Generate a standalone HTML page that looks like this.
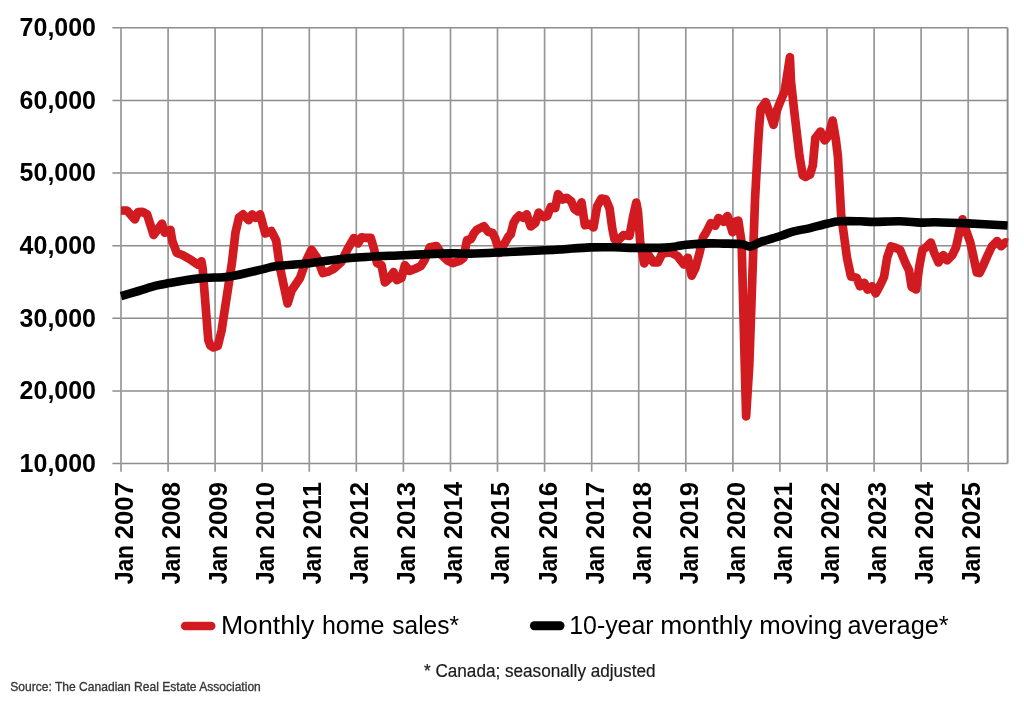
<!DOCTYPE html>
<html><head><meta charset="utf-8"><style>
html,body{margin:0;padding:0;background:#fff;}
body{width:1024px;height:701px;overflow:hidden;font-family:"Liberation Sans",sans-serif;}
svg{display:block;will-change:transform;filter:blur(0.3px);}
</style></head><body>
<svg width="1024" height="701" viewBox="0 0 1024 701">
<rect width="1024" height="701" fill="#fff"/>
<line x1="112.4" y1="27.8" x2="1007.6" y2="27.8" stroke="#8d8d8d" stroke-width="1.5"/>
<line x1="112.4" y1="100.4" x2="1007.6" y2="100.4" stroke="#8d8d8d" stroke-width="1.5"/>
<line x1="112.4" y1="173.0" x2="1007.6" y2="173.0" stroke="#8d8d8d" stroke-width="1.5"/>
<line x1="112.4" y1="245.7" x2="1007.6" y2="245.7" stroke="#8d8d8d" stroke-width="1.5"/>
<line x1="112.4" y1="318.3" x2="1007.6" y2="318.3" stroke="#8d8d8d" stroke-width="1.5"/>
<line x1="112.4" y1="390.9" x2="1007.6" y2="390.9" stroke="#8d8d8d" stroke-width="1.5"/>
<line x1="112.4" y1="463.5" x2="1007.6" y2="463.5" stroke="#8d8d8d" stroke-width="1.5"/>
<line x1="121.0" y1="27.8" x2="121.0" y2="471.8" stroke="#979797" stroke-width="1.7"/>
<line x1="168.1" y1="27.8" x2="168.1" y2="471.8" stroke="#979797" stroke-width="1.7"/>
<line x1="215.1" y1="27.8" x2="215.1" y2="471.8" stroke="#979797" stroke-width="1.7"/>
<line x1="262.2" y1="27.8" x2="262.2" y2="471.8" stroke="#979797" stroke-width="1.7"/>
<line x1="309.3" y1="27.8" x2="309.3" y2="471.8" stroke="#979797" stroke-width="1.7"/>
<line x1="356.3" y1="27.8" x2="356.3" y2="471.8" stroke="#979797" stroke-width="1.7"/>
<line x1="403.4" y1="27.8" x2="403.4" y2="471.8" stroke="#979797" stroke-width="1.7"/>
<line x1="450.5" y1="27.8" x2="450.5" y2="471.8" stroke="#979797" stroke-width="1.7"/>
<line x1="497.5" y1="27.8" x2="497.5" y2="471.8" stroke="#979797" stroke-width="1.7"/>
<line x1="544.6" y1="27.8" x2="544.6" y2="471.8" stroke="#979797" stroke-width="1.7"/>
<line x1="591.7" y1="27.8" x2="591.7" y2="471.8" stroke="#979797" stroke-width="1.7"/>
<line x1="638.7" y1="27.8" x2="638.7" y2="471.8" stroke="#979797" stroke-width="1.7"/>
<line x1="685.8" y1="27.8" x2="685.8" y2="471.8" stroke="#979797" stroke-width="1.7"/>
<line x1="732.9" y1="27.8" x2="732.9" y2="471.8" stroke="#979797" stroke-width="1.7"/>
<line x1="779.9" y1="27.8" x2="779.9" y2="471.8" stroke="#979797" stroke-width="1.7"/>
<line x1="827.0" y1="27.8" x2="827.0" y2="471.8" stroke="#979797" stroke-width="1.7"/>
<line x1="874.1" y1="27.8" x2="874.1" y2="471.8" stroke="#979797" stroke-width="1.7"/>
<line x1="921.1" y1="27.8" x2="921.1" y2="471.8" stroke="#979797" stroke-width="1.7"/>
<line x1="968.2" y1="27.8" x2="968.2" y2="471.8" stroke="#979797" stroke-width="1.7"/>
<line x1="1007.6" y1="27.8" x2="1007.6" y2="463.5" stroke="#8a8a8a" stroke-width="1.9"/>
<text x="96.0" y="36.1" text-anchor="end" font-family="Liberation Sans" font-weight="bold" font-size="26.4" textLength="76.4" lengthAdjust="spacingAndGlyphs">70,000</text>
<text x="96.0" y="108.7" text-anchor="end" font-family="Liberation Sans" font-weight="bold" font-size="26.4" textLength="76.4" lengthAdjust="spacingAndGlyphs">60,000</text>
<text x="96.0" y="181.3" text-anchor="end" font-family="Liberation Sans" font-weight="bold" font-size="26.4" textLength="76.4" lengthAdjust="spacingAndGlyphs">50,000</text>
<text x="96.0" y="254.0" text-anchor="end" font-family="Liberation Sans" font-weight="bold" font-size="26.4" textLength="76.4" lengthAdjust="spacingAndGlyphs">40,000</text>
<text x="96.0" y="326.6" text-anchor="end" font-family="Liberation Sans" font-weight="bold" font-size="26.4" textLength="76.4" lengthAdjust="spacingAndGlyphs">30,000</text>
<text x="96.0" y="399.2" text-anchor="end" font-family="Liberation Sans" font-weight="bold" font-size="26.4" textLength="76.4" lengthAdjust="spacingAndGlyphs">20,000</text>
<text x="96.0" y="471.8" text-anchor="end" font-family="Liberation Sans" font-weight="bold" font-size="26.4" textLength="76.4" lengthAdjust="spacingAndGlyphs">10,000</text>
<text transform="translate(132.9,482.0) rotate(-90)" text-anchor="end" font-family="Liberation Sans" font-weight="bold" font-size="25.3" textLength="57.3" lengthAdjust="spacingAndGlyphs">2007</text>
<text transform="translate(132.9,545.0) rotate(-90)" text-anchor="end" font-family="Liberation Sans" font-weight="bold" font-size="25.3" textLength="39.3" lengthAdjust="spacingAndGlyphs">Jan</text>
<text transform="translate(180.0,482.0) rotate(-90)" text-anchor="end" font-family="Liberation Sans" font-weight="bold" font-size="25.3" textLength="57.3" lengthAdjust="spacingAndGlyphs">2008</text>
<text transform="translate(180.0,545.0) rotate(-90)" text-anchor="end" font-family="Liberation Sans" font-weight="bold" font-size="25.3" textLength="39.3" lengthAdjust="spacingAndGlyphs">Jan</text>
<text transform="translate(227.0,482.0) rotate(-90)" text-anchor="end" font-family="Liberation Sans" font-weight="bold" font-size="25.3" textLength="57.3" lengthAdjust="spacingAndGlyphs">2009</text>
<text transform="translate(227.0,545.0) rotate(-90)" text-anchor="end" font-family="Liberation Sans" font-weight="bold" font-size="25.3" textLength="39.3" lengthAdjust="spacingAndGlyphs">Jan</text>
<text transform="translate(274.1,482.0) rotate(-90)" text-anchor="end" font-family="Liberation Sans" font-weight="bold" font-size="25.3" textLength="57.3" lengthAdjust="spacingAndGlyphs">2010</text>
<text transform="translate(274.1,545.0) rotate(-90)" text-anchor="end" font-family="Liberation Sans" font-weight="bold" font-size="25.3" textLength="39.3" lengthAdjust="spacingAndGlyphs">Jan</text>
<text transform="translate(321.2,482.0) rotate(-90)" text-anchor="end" font-family="Liberation Sans" font-weight="bold" font-size="25.3" textLength="57.3" lengthAdjust="spacingAndGlyphs">2011</text>
<text transform="translate(321.2,545.0) rotate(-90)" text-anchor="end" font-family="Liberation Sans" font-weight="bold" font-size="25.3" textLength="39.3" lengthAdjust="spacingAndGlyphs">Jan</text>
<text transform="translate(368.2,482.0) rotate(-90)" text-anchor="end" font-family="Liberation Sans" font-weight="bold" font-size="25.3" textLength="57.3" lengthAdjust="spacingAndGlyphs">2012</text>
<text transform="translate(368.2,545.0) rotate(-90)" text-anchor="end" font-family="Liberation Sans" font-weight="bold" font-size="25.3" textLength="39.3" lengthAdjust="spacingAndGlyphs">Jan</text>
<text transform="translate(415.3,482.0) rotate(-90)" text-anchor="end" font-family="Liberation Sans" font-weight="bold" font-size="25.3" textLength="57.3" lengthAdjust="spacingAndGlyphs">2013</text>
<text transform="translate(415.3,545.0) rotate(-90)" text-anchor="end" font-family="Liberation Sans" font-weight="bold" font-size="25.3" textLength="39.3" lengthAdjust="spacingAndGlyphs">Jan</text>
<text transform="translate(462.4,482.0) rotate(-90)" text-anchor="end" font-family="Liberation Sans" font-weight="bold" font-size="25.3" textLength="57.3" lengthAdjust="spacingAndGlyphs">2014</text>
<text transform="translate(462.4,545.0) rotate(-90)" text-anchor="end" font-family="Liberation Sans" font-weight="bold" font-size="25.3" textLength="39.3" lengthAdjust="spacingAndGlyphs">Jan</text>
<text transform="translate(509.4,482.0) rotate(-90)" text-anchor="end" font-family="Liberation Sans" font-weight="bold" font-size="25.3" textLength="57.3" lengthAdjust="spacingAndGlyphs">2015</text>
<text transform="translate(509.4,545.0) rotate(-90)" text-anchor="end" font-family="Liberation Sans" font-weight="bold" font-size="25.3" textLength="39.3" lengthAdjust="spacingAndGlyphs">Jan</text>
<text transform="translate(556.5,482.0) rotate(-90)" text-anchor="end" font-family="Liberation Sans" font-weight="bold" font-size="25.3" textLength="57.3" lengthAdjust="spacingAndGlyphs">2016</text>
<text transform="translate(556.5,545.0) rotate(-90)" text-anchor="end" font-family="Liberation Sans" font-weight="bold" font-size="25.3" textLength="39.3" lengthAdjust="spacingAndGlyphs">Jan</text>
<text transform="translate(603.6,482.0) rotate(-90)" text-anchor="end" font-family="Liberation Sans" font-weight="bold" font-size="25.3" textLength="57.3" lengthAdjust="spacingAndGlyphs">2017</text>
<text transform="translate(603.6,545.0) rotate(-90)" text-anchor="end" font-family="Liberation Sans" font-weight="bold" font-size="25.3" textLength="39.3" lengthAdjust="spacingAndGlyphs">Jan</text>
<text transform="translate(650.6,482.0) rotate(-90)" text-anchor="end" font-family="Liberation Sans" font-weight="bold" font-size="25.3" textLength="57.3" lengthAdjust="spacingAndGlyphs">2018</text>
<text transform="translate(650.6,545.0) rotate(-90)" text-anchor="end" font-family="Liberation Sans" font-weight="bold" font-size="25.3" textLength="39.3" lengthAdjust="spacingAndGlyphs">Jan</text>
<text transform="translate(697.7,482.0) rotate(-90)" text-anchor="end" font-family="Liberation Sans" font-weight="bold" font-size="25.3" textLength="57.3" lengthAdjust="spacingAndGlyphs">2019</text>
<text transform="translate(697.7,545.0) rotate(-90)" text-anchor="end" font-family="Liberation Sans" font-weight="bold" font-size="25.3" textLength="39.3" lengthAdjust="spacingAndGlyphs">Jan</text>
<text transform="translate(744.8,482.0) rotate(-90)" text-anchor="end" font-family="Liberation Sans" font-weight="bold" font-size="25.3" textLength="57.3" lengthAdjust="spacingAndGlyphs">2020</text>
<text transform="translate(744.8,545.0) rotate(-90)" text-anchor="end" font-family="Liberation Sans" font-weight="bold" font-size="25.3" textLength="39.3" lengthAdjust="spacingAndGlyphs">Jan</text>
<text transform="translate(791.8,482.0) rotate(-90)" text-anchor="end" font-family="Liberation Sans" font-weight="bold" font-size="25.3" textLength="57.3" lengthAdjust="spacingAndGlyphs">2021</text>
<text transform="translate(791.8,545.0) rotate(-90)" text-anchor="end" font-family="Liberation Sans" font-weight="bold" font-size="25.3" textLength="39.3" lengthAdjust="spacingAndGlyphs">Jan</text>
<text transform="translate(838.9,482.0) rotate(-90)" text-anchor="end" font-family="Liberation Sans" font-weight="bold" font-size="25.3" textLength="57.3" lengthAdjust="spacingAndGlyphs">2022</text>
<text transform="translate(838.9,545.0) rotate(-90)" text-anchor="end" font-family="Liberation Sans" font-weight="bold" font-size="25.3" textLength="39.3" lengthAdjust="spacingAndGlyphs">Jan</text>
<text transform="translate(886.0,482.0) rotate(-90)" text-anchor="end" font-family="Liberation Sans" font-weight="bold" font-size="25.3" textLength="57.3" lengthAdjust="spacingAndGlyphs">2023</text>
<text transform="translate(886.0,545.0) rotate(-90)" text-anchor="end" font-family="Liberation Sans" font-weight="bold" font-size="25.3" textLength="39.3" lengthAdjust="spacingAndGlyphs">Jan</text>
<text transform="translate(933.0,482.0) rotate(-90)" text-anchor="end" font-family="Liberation Sans" font-weight="bold" font-size="25.3" textLength="57.3" lengthAdjust="spacingAndGlyphs">2024</text>
<text transform="translate(933.0,545.0) rotate(-90)" text-anchor="end" font-family="Liberation Sans" font-weight="bold" font-size="25.3" textLength="39.3" lengthAdjust="spacingAndGlyphs">Jan</text>
<text transform="translate(980.1,482.0) rotate(-90)" text-anchor="end" font-family="Liberation Sans" font-weight="bold" font-size="25.3" textLength="57.3" lengthAdjust="spacingAndGlyphs">2025</text>
<text transform="translate(980.1,545.0) rotate(-90)" text-anchor="end" font-family="Liberation Sans" font-weight="bold" font-size="25.3" textLength="39.3" lengthAdjust="spacingAndGlyphs">Jan</text>
<polyline points="121.0,210.5 127.1,210.6 134.8,219.4 138.0,212.1 142.5,211.9 147.1,214.4 153.6,235.0 162.0,223.7 164.8,232.7 170.4,229.8 172.3,241.0 176.8,253.0 182.5,255.0 190.8,259.8 197.9,264.6 201.4,261.3 202.6,268.0 208.3,340.0 210.3,345.5 213.5,347.5 217.8,346.0 221.6,330.5 231.9,263.0 235.5,232.5 239.0,217.5 243.0,214.4 248.7,220.1 252.1,214.4 255.6,217.8 260.1,214.4 265.3,233.5 271.3,231.0 276.2,240.4 279.8,266.9 287.6,303.5 291.6,290.5 300.0,278.0 306.4,260.1 311.5,249.8 317.5,258.4 322.8,273.0 328.6,271.5 334.0,268.6 341.2,262.0 347.6,249.0 354.0,238.0 358.1,243.5 361.5,237.3 365.0,237.8 370.7,237.8 374.1,249.2 376.9,263.0 381.5,265.2 384.9,282.4 388.9,279.0 393.5,272.1 396.9,280.1 401.5,277.8 404.9,265.2 409.5,270.9 415.2,268.7 420.7,266.1 424.7,259.8 429.8,247.2 436.5,246.0 439.5,250.7 442.4,255.8 448.1,260.9 452.7,263.2 459.5,260.9 463.5,258.0 467.0,240.0 471.0,239.2 473.8,233.5 477.0,229.6 484.0,226.2 488.1,231.8 492.6,233.0 495.5,239.2 499.5,252.9 504.0,244.5 508.5,236.5 510.7,234.4 513.6,222.9 516.4,218.4 519.3,215.5 523.3,217.8 526.7,214.4 530.7,226.4 535.3,223.0 538.7,212.7 543.8,217.2 547.2,216.1 550.7,207.0 555.2,208.1 558.0,194.2 562.6,199.5 566.6,197.8 571.2,201.3 574.6,209.2 578.1,211.5 581.5,202.4 584.9,225.2 589.5,224.1 593.5,227.5 597.1,206.4 601.4,198.6 605.7,199.3 609.6,208.5 612.2,228.0 614.5,239.5 618.0,240.5 623.5,235.0 629.5,236.0 633.0,217.0 636.3,202.5 638.0,212.0 640.2,242.1 644.2,263.4 648.8,255.5 653.5,262.5 657.8,262.5 662.0,254.0 669.5,251.8 677.5,256.0 684.0,264.5 687.9,257.8 691.6,275.7 695.4,268.0 699.3,253.9 703.1,237.2 706.3,232.1 710.8,223.1 715.3,225.7 718.5,218.0 723.6,221.8 727.5,216.0 732.6,232.1 734.6,221.8 738.3,220.6 741.6,242.4 746.1,416.3 749.3,365.0 755.0,200.2 758.0,144.9 759.3,124.8 760.7,109.1 765.7,102.0 769.2,112.0 773.5,124.8 777.0,110.0 780.3,101.5 784.6,91.5 787.2,75.0 789.9,57.2 790.9,80.6 794.0,109.1 799.5,156.3 802.8,175.5 805.5,176.9 810.0,174.6 812.8,165.5 815.3,138.1 820.5,131.5 824.7,140.4 828.6,135.8 832.6,120.5 835.8,139.2 837.9,156.3 841.1,214.3 844.6,240.0 847.0,258.0 851.0,276.5 856.6,277.7 860.0,286.3 864.3,282.9 867.7,289.7 872.0,286.3 875.8,293.3 880.0,285.5 884.0,277.0 887.2,257.4 891.0,246.5 895.5,247.7 900.0,249.7 905.8,263.8 909.0,270.2 911.6,286.9 916.1,289.5 919.3,266.3 922.5,249.7 926.3,247.1 930.8,242.6 934.0,252.2 938.5,262.5 943.2,255.2 947.1,260.3 952.2,255.2 956.0,247.5 959.3,232.1 962.5,219.3 965.7,229.5 970.3,242.4 973.3,256.0 976.8,272.5 979.5,273.0 983.2,265.5 987.3,256.0 991.8,246.5 997.1,241.1 1001.0,246.2 1005.5,242.4 1007.6,243.0" fill="none" stroke="#d11b21" stroke-width="8.7" stroke-linejoin="round" stroke-linecap="butt"/>
<path d="M121.0,296.1 C123.9,295.2 132.6,292.7 138.4,291.0 C144.2,289.3 150.9,287.0 156.0,285.7 C161.1,284.4 164.0,284.0 168.9,283.1 C173.8,282.2 180.2,281.0 185.3,280.2 C190.4,279.4 194.5,278.8 199.4,278.4 C204.3,277.9 209.5,277.8 214.6,277.5 C219.7,277.2 222.1,278.0 230.0,276.6 C237.9,275.2 254.4,271.2 262.2,269.4 C270.0,267.6 269.0,267.0 276.9,266.0 C284.8,265.0 297.5,264.5 309.7,263.2 C321.9,261.9 334.3,259.3 350.0,258.0 C365.7,256.7 387.2,256.0 404.0,255.2 C420.8,254.4 440.0,253.7 451.0,253.4 C462.0,253.1 462.2,253.8 470.0,253.6 C477.8,253.4 485.0,253.1 497.5,252.5 C510.0,251.9 534.0,250.9 545.0,250.3 C556.0,249.8 556.3,249.7 563.8,249.2 C571.3,248.7 581.7,247.7 590.0,247.4 C598.3,247.1 605.2,247.2 613.4,247.3 C621.6,247.4 630.6,247.9 639.2,247.9 C647.8,247.9 658.9,247.8 665.0,247.6 C671.1,247.3 672.5,246.9 676.0,246.4 C679.5,245.9 680.4,245.3 686.1,244.8 C691.8,244.3 703.8,243.6 710.0,243.4 C716.2,243.2 718.0,243.5 723.4,243.6 C728.8,243.7 737.7,243.7 742.2,244.2 C746.7,244.7 747.3,247.0 750.4,246.6 C753.5,246.2 755.9,243.7 760.9,241.9 C765.9,240.1 774.8,237.8 780.3,236.0 C785.8,234.2 788.8,232.6 793.8,231.3 C798.8,230.0 804.5,229.4 810.0,228.1 C815.5,226.8 822.1,224.8 827.0,223.7 C831.9,222.6 833.7,221.7 839.3,221.3 C844.9,220.9 854.6,221.2 860.4,221.3 C866.2,221.4 867.4,221.9 873.9,221.9 C880.4,221.9 891.4,221.2 899.1,221.3 C906.8,221.4 914.2,222.4 920.2,222.6 C926.2,222.8 927.2,222.1 935.2,222.2 C943.2,222.3 955.9,222.8 968.0,223.4 C980.1,224.0 1001.0,225.2 1007.6,225.5" fill="none" stroke="#000" stroke-width="8.6" stroke-linejoin="round" stroke-linecap="butt"/>
<line x1="185.2" y1="626" x2="211.2" y2="626" stroke="#d11b21" stroke-width="8.6" stroke-linecap="round"/>
<text x="220.92" y="634.3" font-family="Liberation Sans" font-size="26.5" textLength="93.32" lengthAdjust="spacingAndGlyphs">Monthly</text>
<text x="321.90" y="634.3" font-family="Liberation Sans" font-size="26.5" textLength="62.58" lengthAdjust="spacingAndGlyphs">home</text>
<text x="392.31" y="634.3" font-family="Liberation Sans" font-size="26.5" textLength="66.68" lengthAdjust="spacingAndGlyphs">sales*</text>
<line x1="534.4" y1="625.7" x2="560" y2="625.7" stroke="#000" stroke-width="9" stroke-linecap="round"/>
<text x="569.21" y="634.0" font-family="Liberation Sans" font-size="26.5" textLength="84.39" lengthAdjust="spacingAndGlyphs">10-year</text>
<text x="660.17" y="634.0" font-family="Liberation Sans" font-size="26.5" textLength="92.25" lengthAdjust="spacingAndGlyphs">monthly</text>
<text x="759.18" y="634.0" font-family="Liberation Sans" font-size="26.5" textLength="83.04" lengthAdjust="spacingAndGlyphs">moving</text>
<text x="847.40" y="634.0" font-family="Liberation Sans" font-size="26.5" textLength="101.29" lengthAdjust="spacingAndGlyphs">average*</text>
<text x="424" y="676.7" font-family="Liberation Sans" font-size="17.5" fill="#1a1a1a" stroke="#1a1a1a" stroke-width="0.2" textLength="231.5" lengthAdjust="spacingAndGlyphs">* Canada; seasonally adjusted</text>
<text x="10.3" y="691" font-family="Liberation Sans" font-size="12.9" fill="#383838" stroke="#383838" stroke-width="0.35" textLength="250.5" lengthAdjust="spacingAndGlyphs">Source: The Canadian Real Estate Association</text>
</svg>
</body></html>
